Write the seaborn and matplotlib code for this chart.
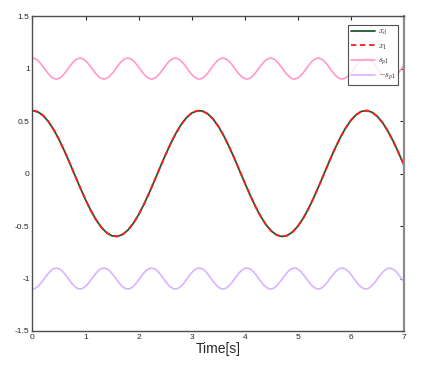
import numpy as np
import pandas as pd
import matplotlib
matplotlib.use("Agg")
import matplotlib.pyplot as plt
import seaborn as sns

# time grids (sample points)
t_main = np.round(np.linspace(0, 7, 71), 3)
t_sp = np.round(np.linspace(0, 7, 141), 3)

# desired trajectory x_d (step 0.1 s)
xd_vals = [0.600, 0.588, 0.553, 0.495, 0.418, 0.324, 0.217, 0.102, -0.018, -0.136,
           -0.250, -0.353, -0.442, -0.514, -0.565, -0.594, -0.599, -0.580, -0.538, -0.475,
           -0.392, -0.294, -0.184, -0.067, 0.053, 0.170, 0.281, 0.381, 0.465, 0.531,
           0.576, 0.598, 0.596, 0.570, 0.522, 0.452, 0.365, 0.263, 0.151, 0.032,
           -0.087, -0.203, -0.312, -0.407, -0.487, -0.547, -0.585, -0.600, -0.591, -0.558,
           -0.503, -0.429, -0.337, -0.231, -0.117, 0.003, 0.122, 0.236, 0.341, 0.432,
           0.506, 0.560, 0.592, 0.600, 0.584, 0.544, 0.484, 0.403, 0.307, 0.198,
           0.082]
# actual state x_1 (tracks x_d, visually identical)
x1_vals = list(xd_vals)

# upper bound s_p1 (step 0.05 s); lower bound is -s_p1
sp1_vals = [1.100, 1.094, 1.077, 1.050, 1.017, 0.982, 0.950, 0.923, 0.906, 0.900,
            0.906, 0.924, 0.951, 0.984, 1.019, 1.051, 1.078, 1.095, 1.100, 1.093,
            1.075, 1.048, 1.015, 0.981, 0.948, 0.922, 0.905, 0.900, 0.907, 0.925,
            0.952, 0.985, 1.020, 1.053, 1.079, 1.095, 1.100, 1.093, 1.074, 1.047,
            1.014, 0.979, 0.947, 0.921, 0.905, 0.900, 0.908, 0.926, 0.954, 0.987,
            1.022, 1.054, 1.080, 1.096, 1.100, 1.092, 1.073, 1.045, 1.012, 0.977,
            0.945, 0.920, 0.904, 0.900, 0.908, 0.927, 0.955, 0.989, 1.024, 1.055,
            1.081, 1.096, 1.100, 1.091, 1.072, 1.044, 1.010, 0.976, 0.944, 0.919,
            0.904, 0.900, 0.909, 0.929, 0.957, 0.991, 1.025, 1.057, 1.082, 1.097,
            1.100, 1.091, 1.071, 1.042, 1.009, 0.974, 0.943, 0.918, 0.903, 0.900,
            0.910, 0.930, 0.958, 0.992, 1.027, 1.058, 1.083, 1.097, 1.100, 1.090,
            1.070, 1.041, 1.007, 0.972, 0.941, 0.917, 0.903, 0.901, 0.910, 0.931,
            0.960, 0.994, 1.028, 1.060, 1.084, 1.097, 1.099, 1.089, 1.068, 1.039,
            1.005, 0.971, 0.940, 0.916, 0.903, 0.901, 0.911, 0.932, 0.962, 0.996,
            1.030]
neg_sp1_vals = [-v for v in sp1_vals]

x_ticks = [0, 1, 2, 3, 4, 5, 6, 7]
y_ticks = [-1.5, -1, -0.5, 0, 0.5, 1, 1.5]
y_ticklabels = ["-1.5", "-1", "-0.5", "0", "0.5", "1", "1.5"]

sns.set_style("white")
plt.rcParams['font.family'] = ['Liberation Sans', 'DejaVu Sans']
plt.rcParams['mathtext.fontset'] = 'cm'

fig = plt.figure(figsize=(4.22, 3.74), dpi=100)
ax = fig.add_axes([0.077, 0.115, 0.880, 0.842])

sns.lineplot(x=t_main, y=xd_vals, ax=ax, color='#1e5b32', linewidth=1.3,
             estimator=None, sort=False, label='$x_d$')
sns.lineplot(x=t_main, y=x1_vals, ax=ax, color='#ff1a1a', linewidth=1.3,
             estimator=None, sort=False, label='$x_1$', linestyle=(0, (3, 2)))
sns.lineplot(x=t_sp, y=sp1_vals, ax=ax, color='#ff99cc', linewidth=1.2,
             estimator=None, sort=False, label='$s_{p1}$')
sns.lineplot(x=t_sp, y=neg_sp1_vals, ax=ax, color='#d9b3ff', linewidth=1.2,
             estimator=None, sort=False, label='$-s_{p1}$')

ax.set_xlim(0, 7)
ax.set_ylim(-1.5, 1.5)
ax.set_xticks(x_ticks)
ax.set_xticklabels([str(v) for v in x_ticks])
ax.set_yticks(y_ticks)
ax.set_yticklabels(y_ticklabels)
ax.tick_params(direction='in', length=3, width=0.8, labelsize=6, colors='#262626',
               top=True, right=True, pad=2)
for side, sp in ax.spines.items():
    sp.set_color('#4d4d4d')
    sp.set_linewidth(1.0)
ax.spines['right'].set_color('#8c8c8c')
ax.spines['right'].set_linewidth(1.6)

ax.set_xlabel('Time[s]', fontsize=10, labelpad=1, color='#262626')
ax.set_ylabel('')

leg = ax.legend(loc='upper right', bbox_to_anchor=(0.985, 0.972), fontsize=6,
                frameon=True, fancybox=False, handlelength=2.9, handletextpad=0.3,
                labelspacing=0.6, borderpad=0.35, borderaxespad=0)
leg.get_frame().set_edgecolor('#262626')
leg.get_frame().set_linewidth(0.8)

fig.savefig('out.png', dpi=100)
